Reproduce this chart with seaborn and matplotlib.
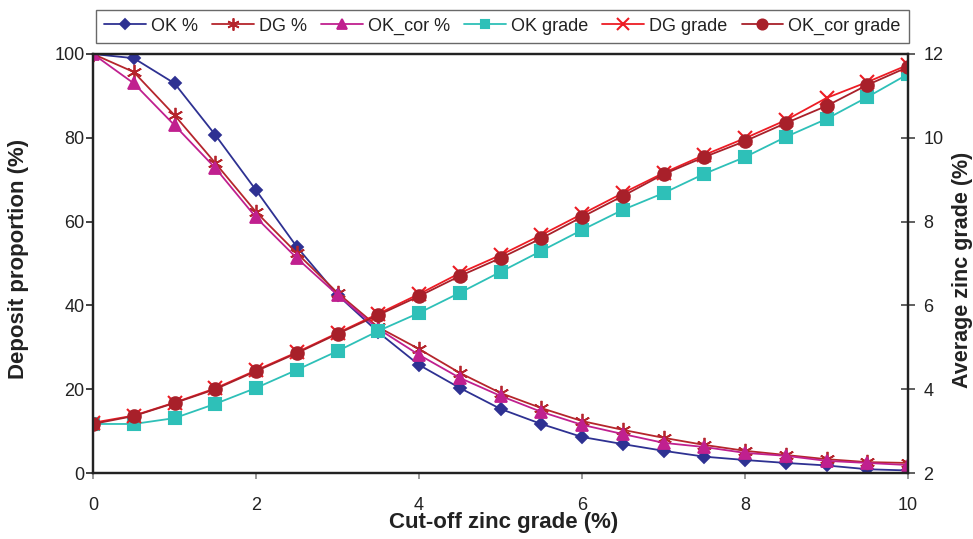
import numpy as np
import pandas as pd
import matplotlib
matplotlib.use('Agg')
import matplotlib.pyplot as plt
import seaborn as sns

cutoff = [0, 0.5, 1, 1.5, 2, 2.5, 3, 3.5, 4, 4.5, 5, 5.5, 6, 6.5, 7, 7.5, 8, 8.5, 9, 9.5, 10]

ok_pct = [100, 99, 93, 80.7, 67.5, 54, 42.5, 33.6, 25.8, 20.3, 15.3, 11.7, 8.6, 6.9, 5.3, 3.9, 3.1, 2.4, 1.8, 0.9, 0.6]
dg_pct = [100, 95.7, 85.4, 74, 62.3, 52.5, 43, 34.8, 29.6, 23.9, 19.1, 15.5, 12.4, 10.3, 8.4, 6.7, 5.3, 4.3, 3.3, 2.6, 2.4]
okcor_pct = [100, 93, 83, 72.8, 61, 51.3, 42.5, 34.4, 28.2, 22.7, 18.4, 14.6, 11.5, 9.3, 7.2, 6.2, 4.8, 4.1, 2.9, 2.4, 1.9]

ok_grade = [3.17, 3.17, 3.31, 3.65, 4.03, 4.46, 4.91, 5.39, 5.82, 6.30, 6.80, 7.30, 7.80, 8.28, 8.68, 9.14, 9.54, 10.02, 10.45, 10.97, 11.52]
dg_grade = [3.2, 3.37, 3.68, 4.02, 4.45, 4.88, 5.34, 5.80, 6.27, 6.77, 7.20, 7.68, 8.18, 8.68, 9.16, 9.59, 9.99, 10.42, 10.95, 11.33, 11.74]
okcor_grade = [3.17, 3.36, 3.67, 4.0, 4.43, 4.86, 5.32, 5.77, 6.22, 6.70, 7.13, 7.60, 8.11, 8.61, 9.13, 9.54, 9.92, 10.35, 10.76, 11.26, 11.69]

df = pd.DataFrame({'cutoff': cutoff, 'OK %': ok_pct, 'DG %': dg_pct, 'OK_cor %': okcor_pct,
                   'OK grade': ok_grade, 'DG grade': dg_grade, 'OK_cor grade': okcor_grade})

sns.set_style('white')
plt.rcParams['font.family'] = ['Liberation Sans', 'DejaVu Sans']
plt.rcParams['text.color'] = '#222222'

fig = plt.figure(figsize=(9.73, 5.39), dpi=100)
ax = fig.add_axes([93 / 973, 66 / 539, 815 / 973, 419 / 539])
ax2 = ax.twinx()

left_styles = [('OK %', '#2E3192', 'D', 6.5),
               ('DG %', '#B5252C', (6, 2, 0), 11),
               ('OK_cor %', '#C0208F', '^', 9)]
right_styles = [('OK grade', '#2EC0B8', 's', 8),
                ('DG grade', '#ED1C24', 'x', 10),
                ('OK_cor grade', '#A8202A', 'o', 9)]

for name, col, mk, ms in left_styles:
    sns.lineplot(data=df, x='cutoff', y=name, ax=ax, color=col, marker=mk, markersize=ms,
                 markeredgecolor=col, markeredgewidth=1.3, linewidth=1.3, label=name, legend=False)
for name, col, mk, ms in right_styles:
    sns.lineplot(data=df, x='cutoff', y=name, ax=ax2, color=col, marker=mk, markersize=ms,
                 markeredgecolor=col, markeredgewidth=1.5, linewidth=1.3, label=name, legend=False)

ax.set_xlim(0, 10)
ax.set_ylim(0, 100)
ax2.set_ylim(2, 12)
ax.set_xticks([0, 2, 4, 6, 8, 10])
ax.set_yticks([0, 20, 40, 60, 80, 100])
ax2.set_yticks([2, 4, 6, 8, 10, 12])

ax.set_xlabel('Cut-off zinc grade (%)', fontsize=16, fontweight='bold', color='#222222')
ax.set_ylabel('Deposit proportion (%)', fontsize=16, fontweight='bold', color='#222222')
ax2.set_ylabel('Average zinc grade (%)', fontsize=15.5, fontweight='bold', color='#222222')
ax.xaxis.set_label_coords(0.5037, -0.093)
ax.yaxis.set_label_coords(-0.0785, 0.511)
ax2.yaxis.set_label_coords(1.0535, 0.484)

for a in (ax, ax2):
    for s in a.spines.values():
        s.set_color('#222222')
        s.set_linewidth(1.6)
ax.tick_params(axis='y', left=True, labelsize=13, length=5, width=1.2, color='#222222',
               direction='out', pad=1, labelcolor='#222222')
ax.tick_params(axis='x', bottom=True, labelsize=13, length=4, width=1.2, color='#888888',
               direction='out', pad=13, labelcolor='#222222')
ax2.tick_params(axis='y', right=True, labelsize=13, length=10, width=1.2, color='#444444',
                direction='inout', pad=6, labelcolor='#222222')

h1, l1 = ax.get_legend_handles_labels()
h2, l2 = ax2.get_legend_handles_labels()
leg = fig.legend(h1 + h2, l1 + l2, ncol=6, mode='expand', loc='lower left',
                 bbox_to_anchor=(96 / 973, 1 - 43 / 539, 813 / 973, 35 / 539),
                 fontsize=13, frameon=True, fancybox=False, handlelength=2.3,
                 handletextpad=0.3, columnspacing=0.5, borderaxespad=0, borderpad=0.45,
                 markerscale=0.8)
leg.get_frame().set_edgecolor('#444444')
leg.get_frame().set_linewidth(1.0)

fig.savefig('out.png', dpi=100)
